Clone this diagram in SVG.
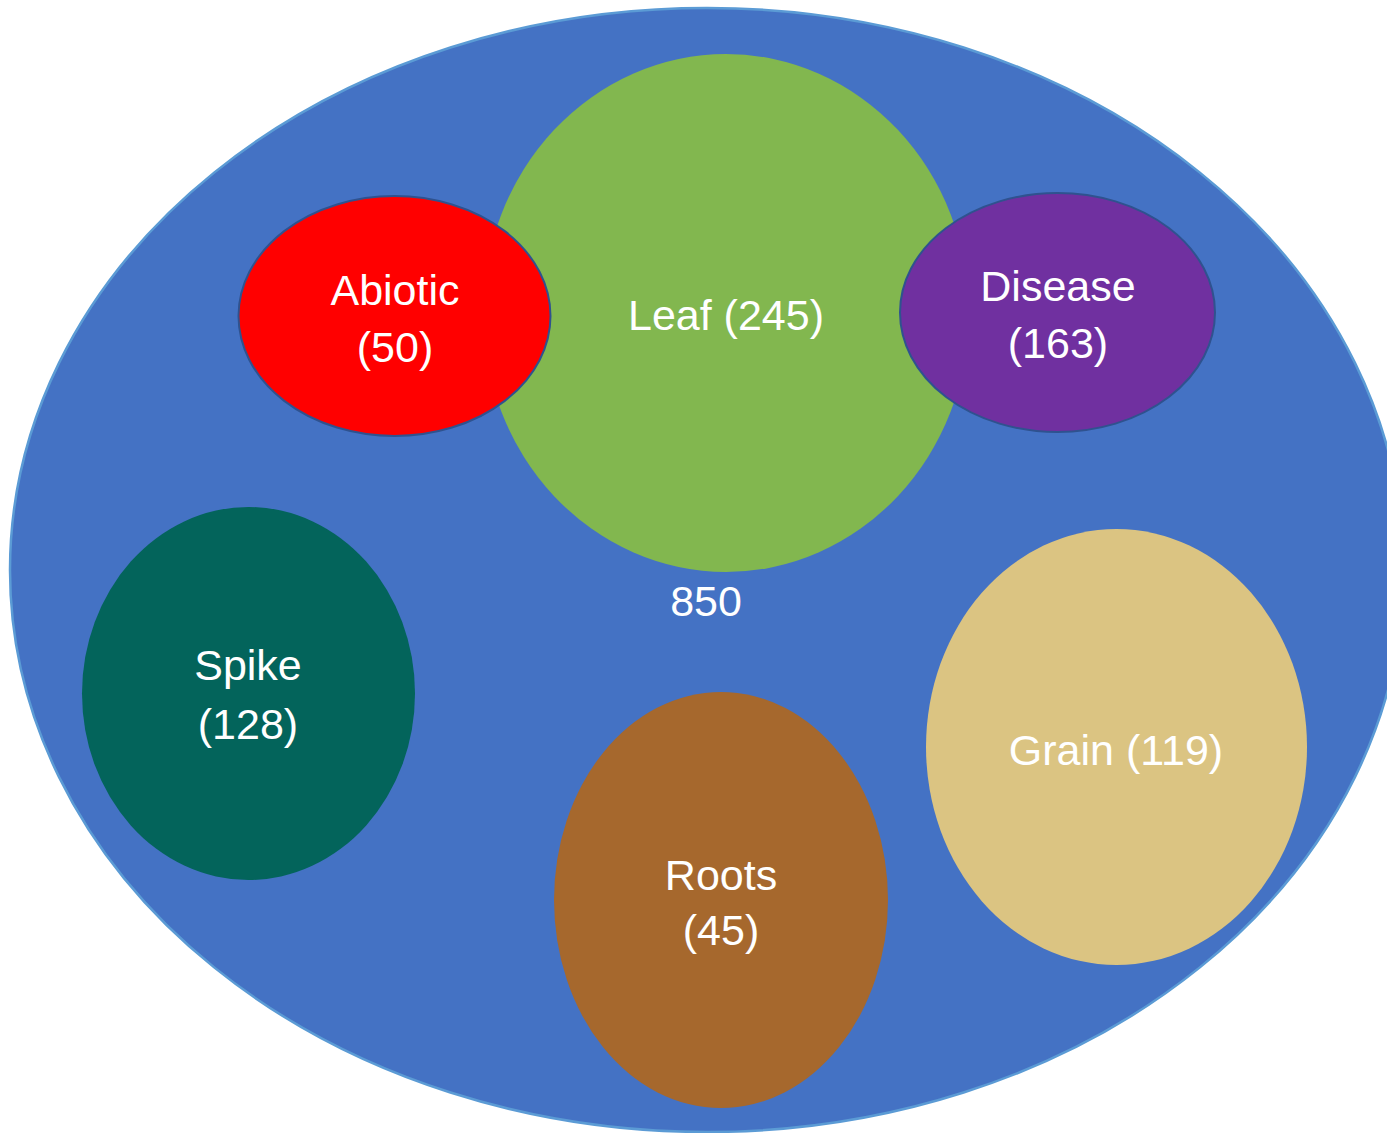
<svg xmlns="http://www.w3.org/2000/svg" width="1387" height="1133" viewBox="0 0 1387 1133">
<style>
.lbl{font-family:"Liberation Sans","Open Sans",Arial,sans-serif;font-size:43px;fill:#ffffff;text-anchor:middle}
.edge{stroke:#2F528F;stroke-width:2}
</style>
<rect width="1387" height="1133" fill="#ffffff"/>
<g id="all">
<ellipse cx="707" cy="570" rx="697" ry="562" fill="#4472C4" stroke="#5B9BD5" stroke-width="2.5"/>
<text class="lbl" x="706" y="616">850</text>
</g>
<g id="leaf">
<ellipse cx="726" cy="313" rx="243" ry="259" fill="#82B74F"/>
<text class="lbl" x="726" y="330">Leaf (245)</text>
</g>
<g id="abiotic">
<ellipse cx="394.5" cy="316" rx="156" ry="120" fill="#FF0000" class="edge"/>
<text class="lbl" x="395" y="305">Abiotic</text>
<text class="lbl" x="395" y="362">(50)</text>
</g>
<g id="disease">
<ellipse cx="1057.5" cy="312.5" rx="157.5" ry="119.5" fill="#7030A0" class="edge"/>
<text class="lbl" x="1058" y="301">Disease</text>
<text class="lbl" x="1058" y="358">(163)</text>
</g>
<g id="spike">
<ellipse cx="248.5" cy="693.5" rx="166.5" ry="186.5" fill="#03645B"/>
<text class="lbl" x="248" y="680">Spike</text>
<text class="lbl" x="248" y="739">(128)</text>
</g>
<g id="roots">
<ellipse cx="721" cy="900" rx="167" ry="208" fill="#A6682D"/>
<text class="lbl" x="721" y="890">Roots</text>
<text class="lbl" x="721" y="945">(45)</text>
</g>
<g id="grain">
<ellipse cx="1116.5" cy="747" rx="190.5" ry="218" fill="#DBC482"/>
<text class="lbl" x="1116" y="765">Grain (119)</text>
</g>
<g id="connectors"/>
</svg>
